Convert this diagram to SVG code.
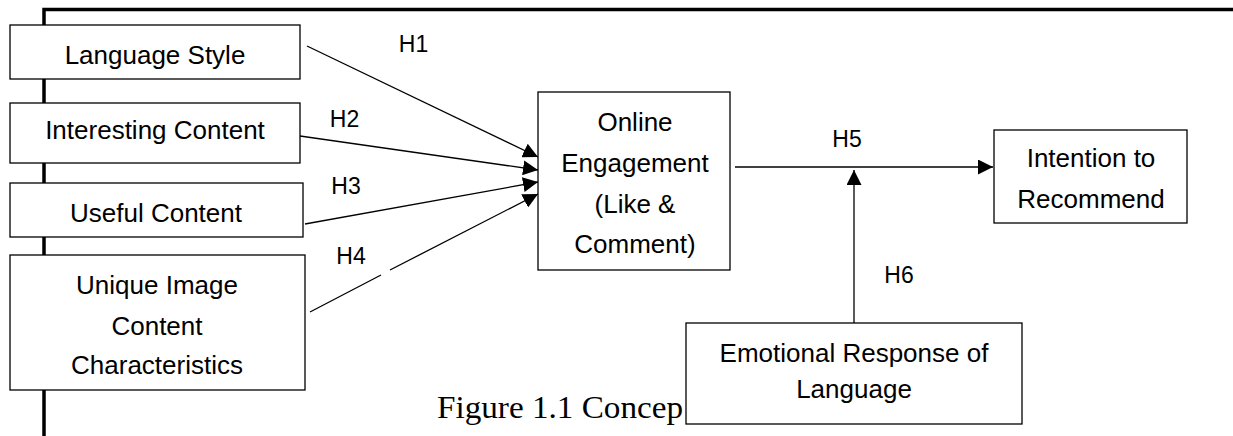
<svg xmlns="http://www.w3.org/2000/svg" width="1233" height="436" viewBox="0 0 1233 436">
<style>
.box{fill:#fff;stroke:#000;stroke-width:1.3}
.t{font-family:"Liberation Sans",Arial,sans-serif;font-size:26px;fill:#000;text-anchor:middle}
.h{font-family:"Liberation Sans",Arial,sans-serif;font-size:23px;fill:#000;text-anchor:middle}
.cap{font-family:"Liberation Serif","Times New Roman",serif;font-size:32px;fill:#000}
.c{fill:none;stroke:#000;stroke-width:1.3}
.frame{fill:none;stroke:#000;stroke-width:3.5}
</style>
<defs>
<marker id="arr" markerUnits="userSpaceOnUse" markerWidth="16" markerHeight="15" refX="15" refY="7.5" orient="auto">
<path d="M0,0 L15,7.5 L0,15 z" fill="#000"/>
</marker>
</defs>
<g id="frame">
<path class="frame" d="M44,436 L44,9.5 L1233,9.5"/>
</g>
<text class="cap" x="437" y="418" textLength="246" lengthAdjust="spacingAndGlyphs">Figure 1.1 Concep</text>
<g id="connectors">
<path class="c" d="M307,46 L538,157" marker-end="url(#arr)"/>
<path class="c" d="M300,136 L538,170" marker-end="url(#arr)"/>
<path class="c" d="M305,224 L538,182" marker-end="url(#arr)"/>
<path class="c" d="M310,312 L381,275 M390,270 L538,194" marker-end="url(#arr)"/>
<path class="c" d="M735,167 L993,167" marker-end="url(#arr)"/>
<path class="c" d="M854,323 L854,170" marker-end="url(#arr)"/>
<text class="h" x="413.5" y="52">H1</text>
<text class="h" x="344.5" y="127">H2</text>
<text class="h" x="346" y="194">H3</text>
<text class="h" x="351" y="264">H4</text>
<text class="h" x="847" y="147">H5</text>
<text class="h" x="899" y="283">H6</text>
</g>
<g id="n-language-style">
<rect class="box" x="10" y="25" width="290" height="54"/>
<text class="t" x="155" y="64">Language Style</text>
</g>
<g id="n-interesting-content">
<rect class="box" x="10" y="103" width="290" height="60"/>
<text class="t" x="155" y="139">Interesting Content</text>
</g>
<g id="n-useful-content">
<rect class="box" x="10" y="183" width="293" height="54"/>
<text class="t" x="156" y="222">Useful Content</text>
</g>
<g id="n-unique-image">
<rect class="box" x="10" y="255" width="295" height="135"/>
<text class="t" x="157" y="294">Unique Image</text>
<text class="t" x="157" y="335">Content</text>
<text class="t" x="157" y="374">Characteristics</text>
</g>
<g id="n-online-engagement">
<rect class="box" x="538" y="92" width="192" height="178"/>
<text class="t" x="635" y="131">Online</text>
<text class="t" x="635" y="172">Engagement</text>
<text class="t" x="635" y="213">(Like &amp;</text>
<text class="t" x="635" y="253">Comment)</text>
</g>
<g id="n-intention">
<rect class="box" x="994" y="130" width="193" height="93"/>
<text class="t" x="1091" y="167">Intention to</text>
<text class="t" x="1091" y="208">Recommend</text>
</g>
<g id="n-emotional">
<rect class="box" x="686" y="323" width="336" height="101"/>
<text class="t" x="854" y="362">Emotional Response of</text>
<text class="t" x="854" y="398">Language</text>
</g>
</svg>
